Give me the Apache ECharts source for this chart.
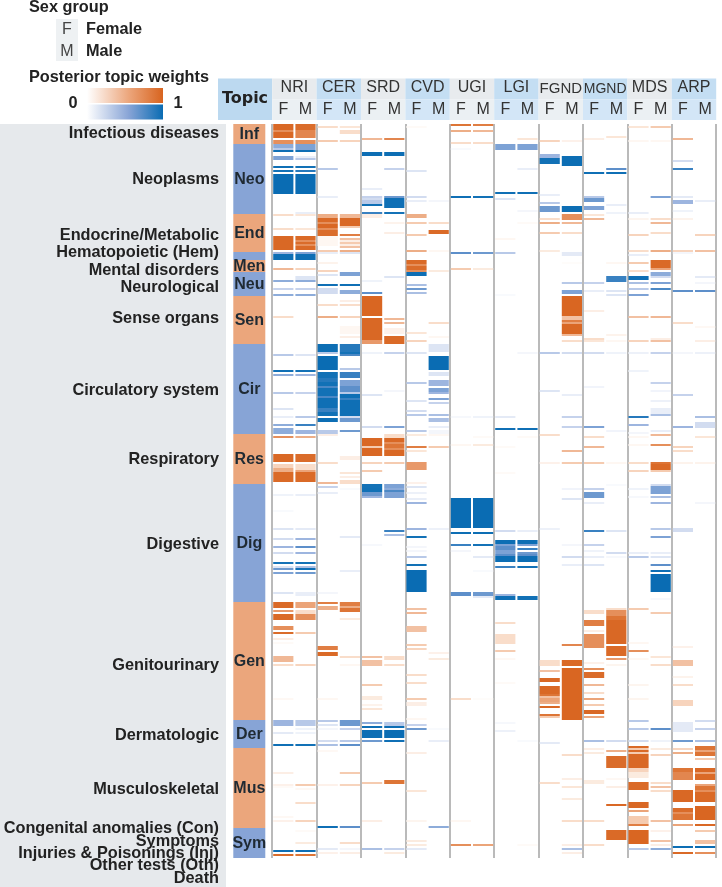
<!DOCTYPE html>
<html>
<head>
<meta charset="utf-8">
<style>html,body{margin:0;padding:0;background:#fff}#chart{width:722px;height:887px}</style>
<script src="https://cdn.jsdelivr.net/npm/echarts@6/dist/echarts.min.js"></script>
</head>
<body>
<div id="chart"></div>
<script>
// topics and sex groups (x axis)
const topics = ['NRI', 'CER', 'SRD', 'CVD', 'UGI', 'LGI', 'FGND', 'MGND', 'MDS', 'ARP'];
const sexes = ['F', 'M'];
const rowCount = 367;

// strip on the left of the heatmap: name, first row
const stripNames = ['Inf', 'Neo', 'End', 'Hem', 'Men', 'Neu', 'Sen', 'Cir', 'Res', 'Dig', 'Gen', 'Der', 'Mus', 'Sym'];
const stripStarts = [0, 10, 45, 64, 68, 74, 86, 110, 155, 180, 239, 298, 312, 352];
const stripHidden = ['Hem'];

// disease chapters
const chapterNames = ['Infectious diseases', 'Neoplasms', 'Endocrine/Metabolic', 'Hematopoietic (Hem)', 'Mental disorders',
    'Neurological', 'Sense organs', 'Circulatory system', 'Respiratory', 'Digestive', 'Genitourinary', 'Dermatologic',
    'Musculoskeletal', 'Congenital anomalies (Con)', 'Symptoms', 'Injuries & Poisonings (Inj)', 'Other tests (Oth)', 'Death'];

// rows where the colour swaps orange <-> blue, starts on orange
const colourFlips = [10, 45, 64, 68, 74, 86, 110, 155, 180, 239, 298, 311, 351, 353, 361, 364];

// posterior weights per column: [first row, last row, weight]
const NRI_F = [[0,2,.9],[3,3,.6],[4,6,.9],[8,9,.6],[10,11,.45],[12,12,.3],[13,13,.9],[16,17,.5],[21,21,.9],[23,23,.8],[25,34,1],[45,45,.2],[52,52,.2],[56,62,.9],[64,64,.4],[65,67,.95],[72,72,.4],[78,78,.45],[82,82,.25],[85,85,.45],[96,96,.2],
    [115,115,.3],[123,123,.9],[125,125,.45],[134,134,.3],[142,142,.15],[146,146,.1],[150,150,.45],[152,154,.45],[156,156,.6],[165,168,.9],[170,171,.25],[172,173,.45],[174,178,.85],[185,185,.07],[193,193,.03],[202,202,.15],[207,207,.2],[211,211,.4],[214,214,.2],[219,219,.8],[221,221,.15],[222,222,.55],[224,224,.5],[234,234,.15],
    [239,241,.85],[243,243,.55],[245,247,.85],[251,252,.6],[254,254,.8],[257,257,.1],[259,259,.03],[266,268,.4],[270,270,.2],[287,287,.04],[298,300,.4],[304,304,.12],[310,310,.9],[324,324,.1],[330,330,.08],[331,331,.03],[346,346,.04],[348,348,.08],[363,363,.95],[365,365,.8]];
const NRI_M = [[0,2,.8],[3,6,.65],[8,9,.6],[10,12,.5],[13,13,.9],[16,16,.1],[17,17,.3],[21,21,.85],[23,23,.75],[25,34,1],[44,44,.1],[45,45,.15],[52,52,.15],[56,57,.85],[58,58,.6],[59,59,.8],[60,60,.6],[61,62,.85],[64,64,.5],[65,67,.95],[72,72,.25],[76,77,.15],[78,78,.45],[82,82,.25],[85,85,.45],
    [115,115,.15],[123,123,.85],[125,125,.4],[134,134,.25],[146,146,.3],[150,150,.7],[153,154,.4],[156,156,.45],[165,168,.8],[170,172,.2],[173,173,.5],[174,178,.85],[185,185,.1],[202,202,.12],[207,207,.4],[211,211,.6],[214,214,.4],[219,219,.85],[221,221,.35],[222,222,.9],[224,224,.55],[234,235,.1],
    [239,241,.5],[243,243,.2],[244,244,.2],[245,247,.6],[254,254,.3],[270,270,.25],[298,300,.3],[302,302,.07],[304,304,.07],[310,310,.85],[330,330,.3],[332,332,.04],[339,339,.2],[348,348,.25],[353,353,.03],[359,359,.12],[363,363,.95],[365,365,.75]];
const CER_F = [[1,1,.2],[8,8,.3],[22,22,.3],[36,36,.1],[45,46,.45],[47,48,.85],[49,49,.6],[50,51,.9],[52,52,.6],[53,55,.8],[56,60,.05],[63,63,.3],[64,64,.1],[69,69,.07],[73,73,.25],[75,75,.15],[80,80,.9],[82,84,.2],[90,90,.2],[96,96,.45],
    [110,113,.95],[114,114,.3],[116,122,1],[124,126,.85],[127,128,.75],[129,130,.85],[131,131,.65],[132,135,.85],[136,136,.65],[137,141,.9],[142,143,.7],[144,145,.85],[147,148,.95],[153,154,.3],[155,155,.1],[169,169,.2],[179,179,.4],[181,181,.25],[184,184,.1],[234,234,.05],
    [239,239,.7],[241,242,.45],[261,262,.7],[264,265,.85],[287,287,.05],[298,298,.3],[300,300,.15],[302,302,.05],[308,308,.2],[310,310,.35],[313,313,.04],[330,330,.08],[351,351,.9],[362,362,.12],[364,364,.08]];
const CER_M = [[1,1,.15],[3,4,.2],[8,8,.25],[45,46,.4],[47,50,.9],[51,51,.3],[55,55,.7],[57,57,.35],[58,58,.1],[59,59,.3],[60,60,.1],[61,61,.35],[63,63,.45],[64,64,.15],[74,75,.5],[80,80,.9],[83,84,.45],[88,88,.1],[90,90,.2],[96,96,.25],[101,104,.05],[106,106,.1],
    [110,113,.75],[114,114,.8],[115,115,.65],[122,122,.3],[124,126,.7],[128,130,.5],[131,133,.6],[134,134,.3],[135,136,.9],[137,137,.7],[138,145,.9],[146,146,.2],[147,148,.55],[153,153,.55],[166,167,.1],[174,174,.15],[176,176,.1],[178,179,.2],[182,182,.03],[206,206,.12],[223,223,.1],
    [239,240,.7],[241,241,.45],[242,243,.75],[247,247,.12],[266,266,.2],[270,270,.05],[298,300,.55],[302,302,.25],[308,308,.3],[310,310,.6],[324,324,.3],[330,330,.25],[351,351,.6],[359,359,.2],[362,362,.05],[364,364,.1]];
const SRD_F = [[7,7,.4],[14,15,.95],[32,32,.1],[36,36,.25],[37,37,.2],[38,39,.3],[40,40,.9],[44,44,.7],[45,46,.1],[78,78,.07],[84,84,.6],[86,95,.95],[97,107,.9],[108,109,.55],
    [114,114,.07],[135,135,.15],[151,151,.2],[157,160,.9],[161,161,.3],[162,165,.9],[169,169,.25],[173,173,.3],[180,181,.8],[182,183,.85],[184,185,.55],[186,186,.4],[210,210,.04],
    [266,266,.35],[268,270,.35],[280,280,.3],[286,287,.12],[290,290,.07],[292,292,.15],[299,299,.45],[301,301,.9],[303,306,.95],[308,308,.55],[329,329,.3],[348,348,.1],[362,362,.35]];
const SRD_M = [[7,7,.65],[14,15,.95],[22,22,.25],[36,36,.55],[37,41,.9],[44,44,.8],[49,49,.07],[54,54,.1],[76,76,.15],[97,97,.4],[99,99,.4],[102,104,.08],[106,109,.85],
    [114,114,.25],[133,133,.05],[151,151,.5],[155,156,.2],[157,158,.9],[159,159,.6],[160,161,.75],[162,162,.6],[163,165,.9],[169,169,.3],[180,181,.5],[182,182,.45],[183,183,.65],[184,186,.5],[203,203,.7],[205,205,.35],
    [266,267,.2],[270,270,.2],[299,300,.3],[301,301,.95],[303,306,1],[308,308,.9],[328,329,.75],[362,362,.25],[364,364,.12]];
const CVD_F = [[1,1,.03],[23,23,.15],[36,36,.2],[38,38,.1],[45,46,.45],[49,49,.3],[55,55,.3],[63,63,.45],[68,69,.85],[70,70,.6],[71,72,.8],[73,73,.6],[74,75,.95],[80,80,.35],[82,82,.55],[84,84,.35],[104,104,.15],
    [108,108,.25],[114,114,.15],[129,129,.3],[138,138,.15],[143,143,.2],[145,145,.3],[153,153,.3],[155,155,.12],[161,161,.7],[163,163,.15],[169,172,.55],[179,179,.08],[181,181,.15],[184,184,.08],[187,187,.1],[189,189,.4],[202,202,.4],[206,206,.85],[211,211,.05],[213,213,.05],[216,216,.3],[220,220,.85],[223,233,1],
    [242,242,.35],[244,244,.4],[251,253,.35],[260,260,.3],[262,262,.25],[275,275,.2],[279,279,.2],[287,287,.3],[289,290,.1],[297,297,.05],[300,300,.25],[302,302,.55],[314,314,.1],[333,333,.15],[348,348,.06],[358,358,.12],[360,360,.12],[362,362,.12]];
const CVD_M = [[38,38,.05],[49,49,.2],[53,54,.85],[63,63,.05],[73,73,.12],[99,99,.2],[106,106,.05],
    [110,113,.15],[116,122,1],[124,125,.15],[128,130,.4],[132,133,.5],[134,134,.4],[137,137,.5],[139,139,.25],[145,145,.35],[147,148,.35],[151,151,.1],[153,155,.05],[161,161,.3],[202,202,.08],
    [264,264,.08],[267,267,.12],[302,302,.03],[308,308,.1],[351,351,.45]];
const UGI_F = [[0,0,.75],[3,3,.45],[9,9,.2],[12,12,.03],[36,36,.9],[64,64,.6],[72,72,.3],[146,146,.04],[160,160,.05],[187,201,1],[204,204,.95],[210,210,.7],[213,213,.05],[234,235,.6],[287,287,.2],[348,348,.05],[360,360,.6]];
const UGI_M = [[0,0,.7],[3,3,.4],[9,9,.2],[36,36,.85],[64,64,.55],[72,72,.12],[146,146,.07],[156,156,.03],[160,160,.12],[187,201,1],[204,204,.95],[210,210,.8],[216,216,.12],[223,223,.03],[234,235,.55],[236,236,.12],[287,287,.02],[360,360,.5]];
const LGI_F = [[10,12,.5],[34,34,.9],[37,37,.15],[57,57,.05],[64,64,.3],[85,85,.03],[146,146,.12],[152,152,.9],[161,161,.03],[174,174,.03],[203,203,.2],[208,209,.95],[210,210,.5],[211,212,.6],[213,214,.5],[215,215,.6],[216,218,.95],[221,221,.7],[235,235,.4],[236,237,.9],
    [249,249,.2],[255,259,.2],[263,263,.3],[267,267,.04],[279,279,.03],[299,299,.04],[303,303,.08]];
const LGI_M = [[7,7,.15],[10,12,.5],[22,22,.1],[34,34,.9],[43,43,.05],[49,49,.03],[114,114,.05],[152,152,.9],[156,156,.03],[203,203,.1],[208,209,.95],[210,210,.5],[212,212,.7],[214,214,.55],[215,215,.6],[216,218,.95],[221,221,.85],[236,237,.85],[308,308,.03],[360,360,.03]];
const FGND_F = [[8,8,.25],[15,16,.4],[17,19,.85],[35,35,.1],[39,39,.3],[41,43,.55],[47,47,.2],[49,49,.45],[54,54,.3],[63,63,.12],[114,114,.3],[133,133,.15],[155,155,.2],[169,169,.08],[202,202,.08],
    [268,270,.2],[273,273,.35],[277,278,.9],[281,284,.9],[285,285,.75],[286,286,.35],[287,288,.5],[289,289,.45],[291,291,.9],[295,295,.75],[296,296,.3],[309,309,.12],[329,329,.2]];
const FGND_M = [[8,8,.08],[16,20,.95],[41,43,.95],[45,47,.6],[49,49,.4],[54,54,.2],[64,65,.12],[69,69,.02],[79,79,.3],[83,84,.5],[86,95,.95],[96,97,.35],[98,98,.7],[99,99,.5],[100,104,.9],[105,105,.4],
    [108,108,.2],[114,114,.2],[135,135,.1],[146,146,.25],[151,151,.25],[163,163,.4],[169,169,.3],[182,182,.06],[187,187,.15],[210,210,.05],[216,216,.2],[220,220,.1],
    [260,260,.65],[268,270,.85],[272,297,.95],[315,315,.2],[327,327,.1],[331,331,.15],[337,337,.12],[348,348,.2],[360,360,.1],[362,362,.35],[364,364,.1]];
const MGND_F = [[7,7,.1],[24,24,.9],[36,36,.3],[37,38,.55],[41,42,.5],[45,45,.15],[47,47,.4],[79,79,.25],[83,83,.1],[93,93,.1],[107,107,.2],
    [108,108,.15],[114,114,.2],[131,131,.06],[151,151,.5],[156,156,.2],[161,161,.4],[169,169,.3],[182,182,.25],[184,186,.55],[189,189,.1],[203,203,.7],[210,210,.25],[213,213,.07],[216,216,.1],[220,220,.15],
    [243,244,.2],[248,250,.7],[253,253,.1],[255,261,.6],[269,269,.08],[272,272,.6],[274,276,.8],[280,280,.4],[284,284,.2],[287,287,.5],[290,290,.3],[293,294,.9],[296,296,.5],[308,308,.35],[312,312,.1],[314,314,.12],[328,329,.12],[348,348,.2],[360,360,.2]];
const MGND_M = [[6,6,.15],[22,22,.6],[24,24,.9],[40,40,.1],[44,44,.07],[69,69,.05],[76,78,.7],[83,83,.15],[85,85,.15],[105,105,.07],
    [108,108,.05],[114,114,.07],[153,153,.06],[169,169,.05],[180,180,.03],[203,203,.15],[214,214,.2],[216,216,.04],[242,242,.2],
    [243,245,.6],[246,247,.75],[248,259,.9],[261,265,.85],[267,267,.55],[270,270,.06],[308,308,.2],[313,313,.45],[316,321,.8],[327,327,.04],[331,331,.1],[340,340,.9],[353,357,.85]];
const MDS_F = [[1,1,.15],[8,8,.05],[44,44,.1],[47,47,.06],[55,55,.25],[63,63,.2],[65,65,.1],[69,69,.3],[73,73,.2],[76,77,.9],[79,79,.35],[82,82,.3],[85,85,.5],[96,96,.35],
    [108,108,.25],[114,114,.08],[123,123,.07],[146,146,.75],[150,150,.4],[154,154,.05],[156,156,.05],[160,160,.05],[169,169,.2],[173,173,.25],[182,182,.07],[186,186,.04],[214,214,.1],[216,216,.3],[242,242,.3],
    [259,259,.05],[263,263,.6],[267,267,.04],[280,280,.06],[287,287,.06],[298,298,.3],[302,302,.3],[308,308,.2],[311,311,.85],[312,312,.3],[313,313,.85],[314,314,.3],[315,321,.9],[322,323,.25],[324,326,.12],[329,332,.85],[339,341,.9],[343,343,.5],[346,349,.3],[350,350,.7],[353,359,.95],[362,362,.3]];
const MDS_M = [[1,1,.3],[8,8,.05],[36,36,.5],[47,47,.2],[49,49,.4],[54,54,.2],[63,63,.45],[68,71,.85],[72,72,.5],[74,75,.45],[76,76,.2],[79,79,.5],[82,82,.65],[96,96,.4],[107,107,.1],
    [108,108,.35],[114,114,.25],[129,129,.25],[133,133,.06],[138,138,.08],[142,144,.1],[145,145,.35],[153,153,.1],[155,155,.4],[160,160,.6],[169,169,.75],[170,172,.85],[173,173,.3],[180,180,.2],[181,184,.5],[186,186,.35],[189,189,.4],[202,202,.3],[206,206,.5],[214,214,.1],[216,216,.15],[220,220,.6],[223,223,.9],[225,233,1],[237,237,.04],
    [244,244,.3],[266,266,.15],[270,270,.2],[302,302,.6],[308,308,.07],[312,312,.12],[315,315,.25],[329,329,.2],[331,331,.35],[333,333,.2],[348,348,.35],[353,353,.08],[358,358,.35],[360,360,.1],[362,362,.45]];
const ARP_F = [[7,7,.4],[18,18,.2],[22,22,.7],[36,36,.12],[38,39,.4],[43,43,.07],[47,47,.07],[63,63,.25],[64,64,.05],[83,83,.6],[99,99,.2],
    [114,114,.05],[135,135,.25],[151,151,.4],[161,161,.25],[163,163,.2],[169,169,.07],[202,203,.2],
    [261,261,.08],[268,270,.35],[276,276,.07],[280,280,.2],[288,290,.25],[299,303,.12],[308,308,.55],[312,312,.25],[314,314,.45],[322,323,.75],[324,327,.65],[333,338,.9],[342,343,.8],[344,344,.6],[345,347,.75],[350,350,.5],[361,361,.95],[364,364,.85]];
const ARP_M = [[38,38,.1],[55,55,.25],[63,63,.35],[76,76,.12],[79,79,.05],[83,83,.6],[101,101,.04],
    [108,108,.1],[114,114,.08],[146,146,.35],[149,151,.2],[156,156,.15],[169,169,.07],[189,189,.05],
    [298,298,.2],[302,302,.25],[308,308,.35],[311,312,.75],[313,313,.5],[314,315,.75],[317,317,.3],[322,323,.9],[324,324,.5],[325,327,.85],[330,330,.5],[331,332,.75],[333,333,.6],[334,338,.85],[341,347,.95],[350,350,.9],[353,353,.3],[358,359,.35],[361,361,1],[364,364,.6]];

const columns = [NRI_F, NRI_M, CER_F, CER_M, SRD_F, SRD_M, CVD_F, CVD_M, UGI_F, UGI_M, LGI_F, LGI_M, FGND_F, FGND_M, MGND_F, MGND_M, MDS_F, MDS_M, ARP_F, ARP_M];

// colours, blue end to orange end in steps of 0.2
const weightRamp = ['#0a6cb3', '#1472b7', '#5d8fca', '#9db5df', '#d2dcf0', '#ffffff', '#f9ddca', '#f0b896', '#e58f5b', '#da6c2a', '#d8641f'];
const ORANGE = '#d8641f', ORANGE_MID = '#eca67c', BLUE = '#0a6cb3', BLUE_MID = '#88a4d6';
const STRIP_ORANGE = '#eba67c', STRIP_BLUE = '#87a4d6';
const FONT = '"Liberation Sans", Arial, sans-serif';
const TEXT = '#222';

// layout, pixels
const GRID_LEFT = 272.2, GRID_TOP = 124, GRID_W = 444, GRID_H = 734;
const chapterLabelY = [134, 180, 236, 253, 271, 288, 319, 391, 460, 545, 666, 736, 790, 829, 842, 854, 866, 879];

function rowSign(row) {
    let sign = 1;
    colourFlips.forEach(f => { if (row >= f) sign = -sign; });
    return sign;
}

// runs -> one [column, row, signed weight] per cell
const colLabels = [];
topics.forEach(() => sexes.forEach(s => colLabels.push(s)));
const rowLabels = [];
for (let r = 0; r < rowCount; r++) rowLabels.push(String(r));

const cells = [];
columns.forEach((runs, col) => {
    const seen = {};
    runs.forEach(run => {
        for (let r = run[0]; r <= run[1]; r++) seen[r] = run[2];
    });
    Object.keys(seen).forEach(k => {
        const r = Number(k);
        cells.push([col, r, rowSign(r) * seen[k]]);
    });
});

const stripData = stripNames.map((name, i) => {
    const end = i + 1 < stripStarts.length ? stripStarts[i + 1] - 1 : rowCount - 1;
    return [0, stripStarts[i], end, name];
});

function label(text, x, y, opts) {
    return {
        type: 'text', x: x, y: y, silent: true, z: 5,
        style: Object.assign({
            text: text, fill: TEXT, font: 'bold 16.3px ' + FONT, textAlign: 'left', textVerticalAlign: 'middle'
        }, opts || {})
    };
}
function box(x, y, w, h, fill) {
    return { type: 'rect', silent: true, z: -1, shape: { x: x, y: y, width: w, height: h }, style: { fill: fill } };
}
function ramp(c1, c2) {
    return { type: 'linear', x: 0, y: 0, x2: 1, y2: 0, colorStops: [
        { offset: 0, color: '#fff' }, { offset: 0.55, color: c1 }, { offset: 1, color: c2 }] };
}

const graphics = [];
graphics.push(box(0, 124, 226, 763, '#e6e9ec'));
chapterNames.forEach((name, i) => {
    graphics.push(label(name, 219, chapterLabelY[i], { textAlign: 'right' }));
});
// header bands
graphics.push(box(218, 78.5, 54.2, 41.5, '#bcd9f0'));
graphics.push(label('Topic', 245, 99, { textAlign: 'center', font: 'bold 16px "DejaVu Sans", ' + FONT }));
topics.forEach((t, i) => {
    const x = GRID_LEFT + i * GRID_W / topics.length;
    const w = GRID_W / topics.length;
    graphics.push(box(x, 78.5, w, 21, i % 2 ? '#c4def3' : '#e8ebee'));
    graphics.push(box(x, 99.5, w, 20.5, i % 2 ? '#d3e6f7' : '#ebf0f3'));
});
// sex legend
graphics.push(label('Sex group', 29, 8));
graphics.push(box(56, 19, 22, 42, '#eef1f3'));
graphics.push(label('F', 67, 30, { font: '16px ' + FONT, fill: '#444', textAlign: 'center' }));
graphics.push(label('M', 67, 52, { font: '16px ' + FONT, fill: '#444', textAlign: 'center' }));
graphics.push(label('Female', 86, 30));
graphics.push(label('Male', 86, 52));
// weight legend
graphics.push(label('Posterior topic weights', 29, 78));
graphics.push(label('0', 73, 104, { textAlign: 'center' }));
graphics.push(label('1', 178, 104, { textAlign: 'center' }));
graphics.push(box(87, 88, 76, 15, ramp(ORANGE_MID, ORANGE)));
graphics.push(box(87, 104.5, 76, 15, ramp(BLUE_MID, BLUE)));

const chart = echarts.init(document.getElementById('chart'), null, { renderer: 'canvas' });
chart.setOption({
    animation: false,
    backgroundColor: '#fff',
    graphic: { elements: graphics },
    grid: [
        { left: GRID_LEFT, top: GRID_TOP, width: GRID_W, height: GRID_H },
        { left: 233.3, top: GRID_TOP, width: 32, height: GRID_H }
    ],
    xAxis: [
        {
            type: 'category', gridIndex: 0, position: 'top', data: colLabels,
            axisLine: { show: false }, axisTick: { show: false },
            axisLabel: { interval: 0, color: '#333', fontSize: 16, fontFamily: FONT, margin: 6 }
        },
        {
            type: 'category', gridIndex: 0, position: 'top', offset: 22, data: topics,
            axisLine: { show: false }, axisTick: { show: false },
            splitLine: { show: true, lineStyle: { color: '#a3a3a3', width: 1.5 } },
            axisLabel: {
                interval: 0, color: '#333', fontSize: 16, fontFamily: FONT, margin: 6,
                formatter: v => (v === 'MGND' ? '{s|' + v + '}' : (v === 'FGND' ? '{f|' + v + '}' : v)),
                rich: {
                    s: { fontSize: 14, color: '#333', fontFamily: FONT },
                    f: { fontSize: 15, color: '#333', fontFamily: FONT }
                }
            }
        },
        { type: 'category', gridIndex: 1, data: ['strip'], show: false }
    ],
    yAxis: [
        { type: 'category', gridIndex: 0, data: rowLabels, inverse: true, show: false },
        { type: 'category', gridIndex: 1, data: rowLabels, inverse: true, show: false }
    ],
    visualMap: {
        show: false, seriesIndex: 0, dimension: 2, min: -1, max: 1,
        inRange: { color: weightRamp }
    },
    series: [
        {
            type: 'custom', xAxisIndex: 0, yAxisIndex: 0, data: cells, silent: true,
            encode: { x: 0, y: 1 }, progressive: 0,
            renderItem: (params, api) => {
                const p = api.coord([api.value(0), api.value(1)]);
                const s = api.size([1, 1]);
                const w = s[0] - 2;
                return {
                    type: 'rect',
                    shape: { x: p[0] - w / 2, y: p[1] - s[1] / 2, width: w, height: s[1] },
                    style: { fill: api.visual('color') }
                };
            }
        },
        {
            type: 'custom', xAxisIndex: 2, yAxisIndex: 1, data: stripData, silent: true,
            encode: { x: 0, y: [1, 2] },
            renderItem: (params, api) => {
                const top = api.coord([0, api.value(1)]);
                const bottom = api.coord([0, api.value(2)]);
                const s = api.size([1, 1]);
                const y0 = top[1] - s[1] / 2, y1 = bottom[1] + s[1] / 2;
                const name = stripData[params.dataIndex][3];
                const orange = rowSign(api.value(1)) > 0;
                const children = [{
                    type: 'rect',
                    shape: { x: top[0] - s[0] / 2, y: y0, width: s[0], height: y1 - y0 },
                    style: { fill: orange ? STRIP_ORANGE : STRIP_BLUE }
                }];
                if (stripHidden.indexOf(name) < 0) {
                    children.push({
                        type: 'text', z2: 5,
                        style: {
                            text: name, x: top[0], y: (y0 + y1) / 2 + 1, textAlign: 'center', textVerticalAlign: 'middle',
                            fill: '#1f2a33', font: 'bold 16px ' + FONT
                        }
                    });
                }
                return { type: 'group', children: children };
            }
        }
    ]
});
</script>
</body>
</html>
